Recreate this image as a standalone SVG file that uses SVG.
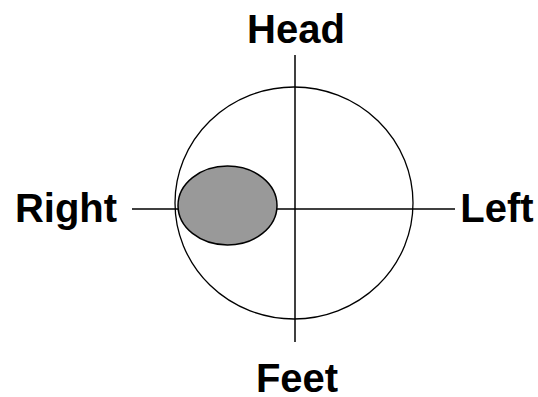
<svg xmlns="http://www.w3.org/2000/svg" width="538" height="397" viewBox="0 0 538 397">
<style>
.lbl{font-family:"Liberation Sans",Arial,sans-serif;font-weight:bold;font-size:40px;fill:#000;text-anchor:middle}
.ln{stroke:#000;stroke-width:1.5;fill:none}
</style>
<rect width="538" height="397" fill="#fff"/>
<g id="body">
<ellipse cx="294" cy="203" rx="119" ry="116" fill="none" stroke="#000" stroke-width="1.3"/>
</g>
<g id="connectors">
<line class="ln" x1="295" y1="55" x2="295" y2="342"/>
<line class="ln" x1="132" y1="209" x2="455" y2="209"/>
</g>
<g id="lesion">
<ellipse cx="227.5" cy="205.5" rx="49.5" ry="39.5" fill="#999999" stroke="#000" stroke-width="1.5"/>
</g>
<g id="head"><text class="lbl" x="296" y="43">Head</text></g>
<g id="feet"><text class="lbl" x="297" y="392">Feet</text></g>
<g id="right"><text class="lbl" x="66" y="222">Right</text></g>
<g id="left"><text class="lbl" x="497" y="222">Left</text></g>
</svg>
